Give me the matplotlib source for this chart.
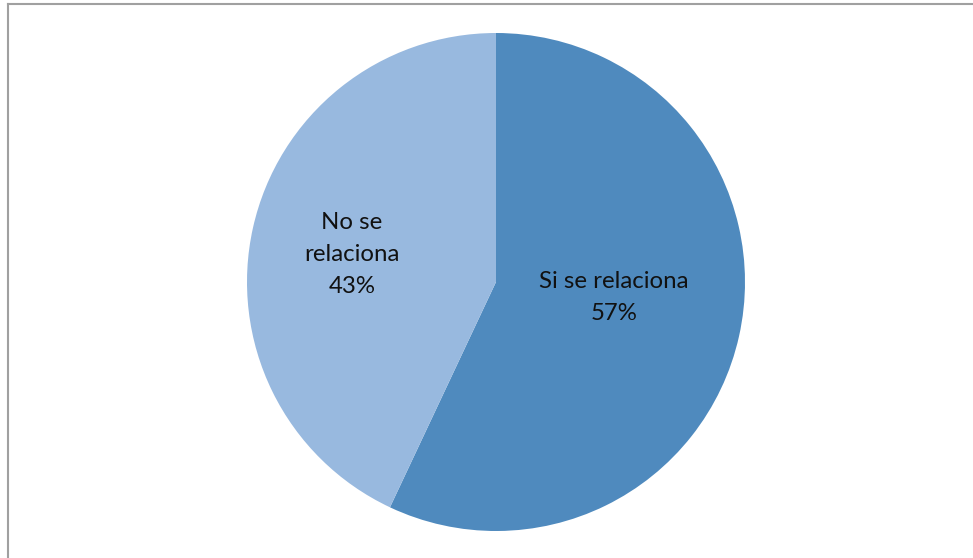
import matplotlib
matplotlib.use("Agg")
import matplotlib.pyplot as plt

plt.rcParams['font.family'] = ['Lato', 'DejaVu Sans']

# Survey answers
labels = ["Si se relaciona", "No se\nrelaciona"]
values = [57, 43]
colors = ["#4F8ABE", "#98B9DF"]

# where each label sits, in units of the pie radius
label_xy = [(0.474, -0.064), (-0.578, 0.112)]

fig = plt.figure(figsize=(9.73, 5.58), dpi=100)
fig.patch.set_facecolor("white")

# frame lines along top and left edge
fig.add_artist(plt.Line2D([7.5 / 973, 1], [1 - 4 / 558, 1 - 4 / 558], color="#A0A0A0", lw=1.5))
fig.add_artist(plt.Line2D([7.5 / 973, 7.5 / 973], [0, 1 - 4 / 558], color="#A0A0A0", lw=1.5))

ax = fig.add_axes([247 / 973, 27 / 558, 498 / 973, 498 / 558])
wedges, _ = ax.pie(values, colors=colors, startangle=90, counterclock=False,
                   wedgeprops=dict(linewidth=0), radius=1)

for lab, v, (tx, ty) in zip(labels, values, label_xy):
    ax.text(tx, ty, f"{lab}\n{v}%", ha="center", va="center",
            fontsize=17.3, linespacing=1.65, color="#111111")

ax.set_xlim(-1, 1)
ax.set_ylim(-1, 1)
ax.set_aspect("equal")
ax.axis("off")

fig.savefig("out.png", dpi=100)
